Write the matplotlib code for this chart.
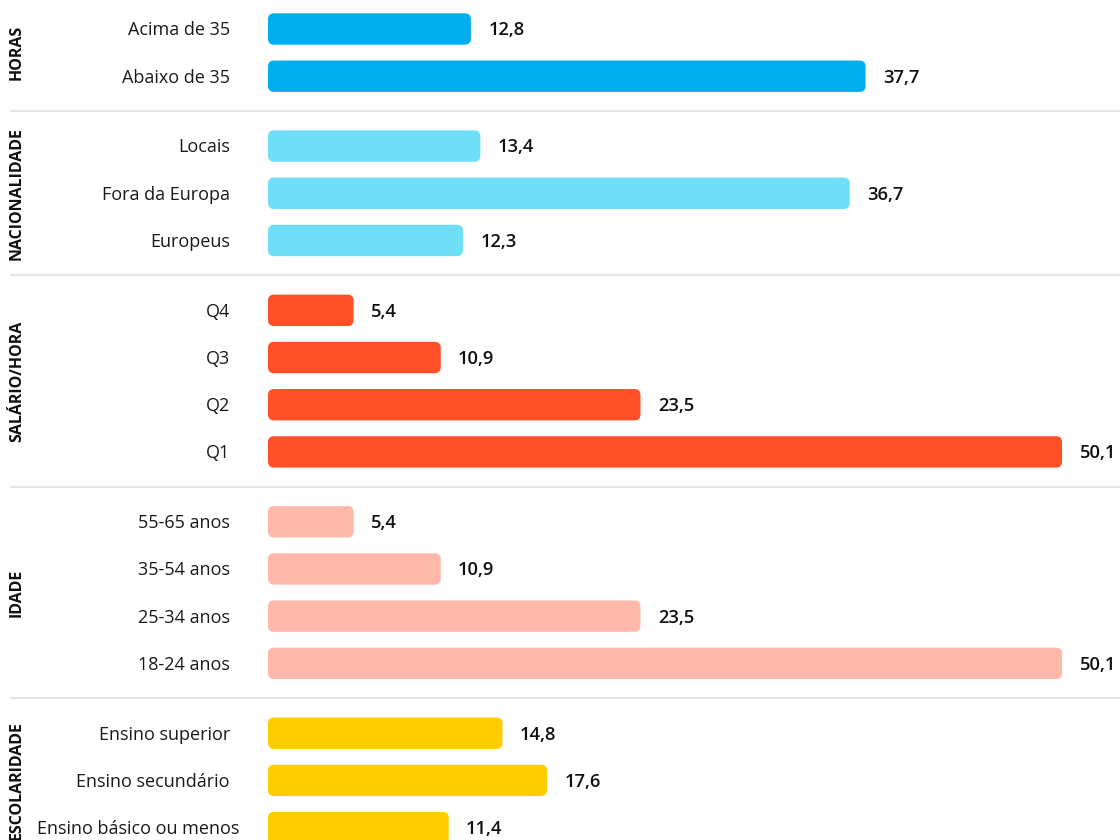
import matplotlib
matplotlib.use("Agg")
import matplotlib.pyplot as plt
from matplotlib.patches import FancyBboxPatch

plt.rcParams['font.family'] = ['Open Sans', 'DejaVu Sans']

# grouped shares (%), top group first
groups = ["HORAS", "NACIONALIDADE", "SALÁRIO/HORA", "IDADE", "ESCOLARIDADE"]
horas_labels = ["Acima de 35", "Abaixo de 35"]
horas_values = [12.8, 37.7]
nacionalidade_labels = ["Locais", "Fora da Europa", "Europeus"]
nacionalidade_values = [13.4, 36.7, 12.3]
salario_labels = ["Q4", "Q3", "Q2", "Q1"]
salario_values = [5.4, 10.9, 23.5, 50.1]
idade_labels = ["55-65 anos", "35-54 anos", "25-34 anos", "18-24 anos"]
idade_values = [5.4, 10.9, 23.5, 50.1]
escolaridade_labels = ["Ensino superior", "Ensino secundário", "Ensino básico ou menos"]
escolaridade_values = [14.8, 17.6, 11.4]
colors = ["#00AEEF", "#6FDFF7", "#FF5028", "#FFB8A9", "#FFCC00"]

blocks = [
    (horas_labels, horas_values),
    (nacionalidade_labels, nacionalidade_values),
    (salario_labels, salario_values),
    (idade_labels, idade_values),
    (escolaridade_labels, escolaridade_values),
]

W, H = 1120, 840
PX_X = 15.85      # pixels per percentage point
PX_Y = 47.2       # pixels per row
X0 = 268          # pixel where bars start
Y0 = 29           # pixel of first row centre
GAP = 1.48        # row spacing between groups

fig = plt.figure(figsize=(W / 100, H / 100), dpi=100)
ax = fig.add_axes([0, 0, 1, 1])
ax.set_xlim(-X0 / PX_X, (W - X0) / PX_X)
ax.set_ylim((H - Y0) / PX_Y, -Y0 / PX_Y)
ax.axis("off")

bar_h = 0.665
radius = 6 / PX_X
aspect = PX_X / PX_Y

pos = 0.0
for gi, (labels, values) in enumerate(blocks):
    ys = [pos + i for i in range(len(labels))]
    bars = ax.barh(ys, values, height=bar_h, color=colors[gi])
    # swap the plain rectangles for rounded ones of the same size
    for rect in bars:
        x, y = rect.get_x(), rect.get_y()
        w, h = rect.get_width(), rect.get_height()
        rect.remove()
        ax.add_patch(FancyBboxPatch((x, y), w, h,
                                    boxstyle=f"round,pad=0,rounding_size={radius}",
                                    mutation_aspect=aspect,
                                    facecolor=colors[gi], edgecolor="none"))
    for y, lab, v in zip(ys, labels, values):
        # long labels sit a little closer to the bar
        lx = -29 if len(lab) > 20 else -38
        ax.text(lx / PX_X, y + 0.03, lab, ha="right", va="center",
                fontsize=13, color="#1a1a1a")
        ax.annotate(f"{v:.1f}".replace(".", ","), (v, y + 0.03), xytext=(12.5, 0),
                    textcoords="offset points", ha="left", va="center",
                    fontsize=13.2, fontweight="semibold", color="#111111")
    ax.text(-251 / PX_X, (ys[0] + ys[-1]) / 2, groups[gi], rotation=90,
            ha="center", va="center", fontsize=11.5, fontweight="bold",
            color="#111111")
    pos = ys[-1] + GAP
    if gi < len(blocks) - 1:
        ax.hlines(ys[-1] + GAP / 2, (10 - X0) / PX_X, (W - X0) / PX_X,
                  color="#e4e4e4", lw=1.5)

fig.savefig("out.png", dpi=100)
